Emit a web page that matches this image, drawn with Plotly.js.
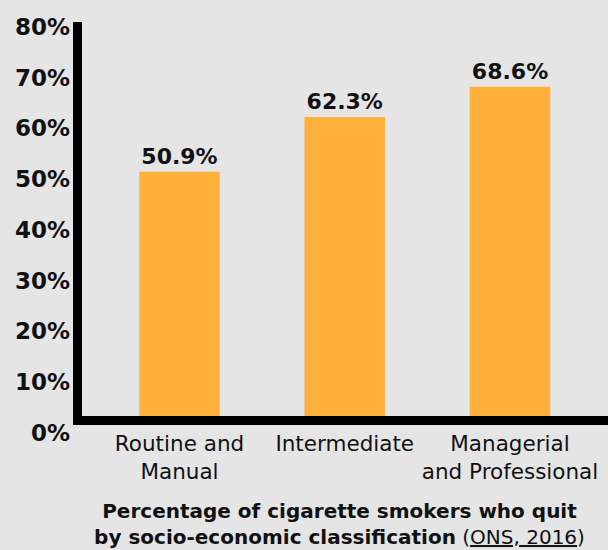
<!DOCTYPE html>
<html>
<head>
<meta charset="utf-8">
<script src="https://cdn.plot.ly/plotly-3.0.1.min.js"></script>
<style>
  html, body { margin: 0; padding: 0; background: #e5e5e5; }
  #chart { width: 608px; height: 550px; }
</style>
</head>
<body>
<div id="chart"></div>
<script>
// Data
const categories = ["Routine and<br>Manual", "Intermediate", "Managerial<br>and Professional"];
const quitRates = [50.9, 62.3, 68.6];
const quitLabels = ["50.9%", "62.3%", "68.6%"];
const tickVals = [0, 10, 20, 30, 40, 50, 60, 70, 80];
const tickText = ["0%", "10%", "20%", "30%", "40%", "50%", "60%", "70%", "80%"];

const FONT = "DejaVu Sans";

const bars = {
  type: "bar",
  x: categories,
  y: quitRates,
  text: quitLabels,
  textposition: "outside",
  texttemplate: "%{text}",
  textfont: { family: FONT, size: 22, color: "#111111", weight: 700 },
  marker: { color: "#FFB13B", line: { width: 0 } },
  width: 0.487,
  cliponaxis: false,
  hoverinfo: "skip",
  xaxis: "x",
  yaxis: "y"
};

// invisible helper trace so the label axis is built
const labelHelper = {
  type: "scatter",
  mode: "markers",
  x: categories,
  y: quitRates,
  marker: { opacity: 0, size: 1 },
  hoverinfo: "skip",
  showlegend: false,
  xaxis: "x",
  yaxis: "y2"
};

const layout = {
  width: 608,
  height: 550,
  paper_bgcolor: "#e5e5e5",
  plot_bgcolor: "rgba(0,0,0,0)",
  margin: { l: 82, r: 0, t: 22, b: 117, pad: 0 },
  showlegend: false,
  title: {
    text: "<b>Percentage of cigarette smokers who quit<br>by socio-economic classification</b> (<u>ONS, 2016</u>)",
    font: { family: FONT, size: 20, color: "#111111" },
    xref: "container",
    yref: "container",
    x: 0.5584,
    xanchor: "center",
    y: 0.0581,
    yanchor: "top"
  },
  xaxis: {
    type: "category",
    range: [-0.590, 2.593],
    showline: true,
    linecolor: "#000000",
    linewidth: 9,
    showgrid: false,
    zeroline: false,
    ticks: "",
    tickfont: { family: FONT, size: 21.5, color: "#111111" },
    anchor: "y",
    fixedrange: true
  },
  yaxis: {
    domain: [17 / 411, 1],
    range: [0, 82.08],
    showline: true,
    linecolor: "#000000",
    linewidth: 9,
    showgrid: false,
    zeroline: false,
    ticks: "",
    showticklabels: false,
    anchor: "x",
    fixedrange: true
  },
  yaxis2: {
    domain: [0, (433 - 26.7) / 411],
    range: [0, 80],
    anchor: "free",
    position: 0,
    side: "left",
    showline: false,
    showgrid: false,
    zeroline: false,
    ticks: "",
    tickmode: "array",
    tickvals: tickVals,
    ticktext: tickText,
    tickfont: { family: FONT, size: 23, color: "#111111", weight: 700 },
    ticklabelstandoff: 12,
    fixedrange: true
  }
};

Plotly.newPlot("chart", [bars, labelHelper], layout, { displayModeBar: false, staticPlot: true });
</script>
</body>
</html>
